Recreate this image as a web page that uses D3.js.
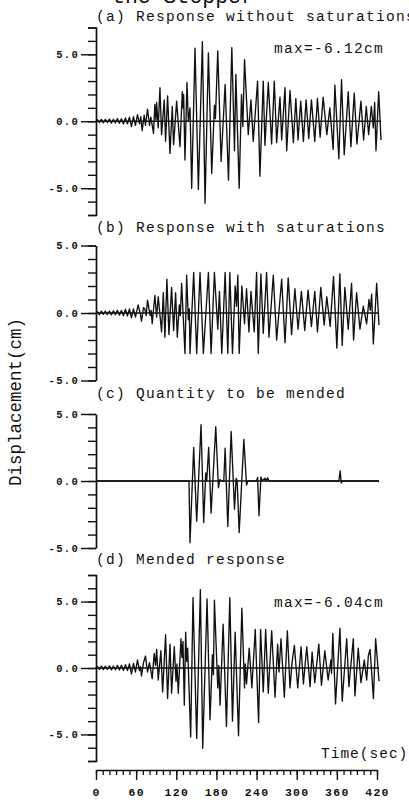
<!DOCTYPE html>
<html>
<head>
<meta charset="utf-8">
<script src="https://cdn.jsdelivr.net/npm/d3@7"></script>
<style>
  html, body { margin: 0; padding: 0; background: #fff; }
  svg { display: block; }
  text { font-family: "Liberation Mono", "DejaVu Sans Mono", monospace; fill: #111; }
</style>
</head>
<body>
<div id="chart"></div>
<script>
// values: [time (sec), displacement (cm)]
var respA = [
  [0,0],[2,0.12],[5,-0.1],[8,0.14],[11,-0.12],[14,0.15],[17,-0.1],[20,0.16],[23,-0.14],[26,0.15],
  [29,-0.12],[32,0.2],[35,-0.15],[38,0.18],[41,-0.2],[44,0.25],[47,-0.2],[50,0.3],[53,-0.4],[56,0.35],
  [59,-0.3],[62,0.5],[65,-0.2],[67,0.35],[69,-0.7],[72,0.45],[74,-0.3],[77,0.9],[80,-0.3],[82,0.3],
  [86,-0.9],[88,1.25],[89.6,0.1],[90.6,1.4],[93,-0.5],[95.6,2.5],[98,-1.0],[102,1.6],[104,-1.5],[107,1.9],
  [110.6,-2.4],[114,1.1],[116,-1.75],[120.5,1.5],[125.5,-1.9],[129,2.2],[130,1.0],[131,2.0],[133,-2.9],[136,2.9],
  [138,0],[140.5,1.0],[143,-5.0],[148,5.45],[153,-5.1],[159,5.95],[163,-6.12],[168,5.1],[173,-3.9],[177,1.2],
  [178.5,0.2],[182,5.25],[187,-3.0],[193,2.75],[198,-4.4],[203,5.5],[207,-2.2],[209,3.5],[214,-5.0],[217.5,2.0],
  [219.5,-0.4],[222,4.6],[227.6,-1.0],[231.6,1.6],[235,-1.5],[241.5,3.0],[245,-4.1],[250,3.0],[252.5,-1.8],[257.5,2.9],
  [262.5,-1.7],[266.5,3.0],[270,-1.6],[275,1.8],[277.5,-1.4],[282.5,2.5],[285,-2.2],[290,2.3],[295,-1.6],[298.7,1.7],
  [302,-1.4],[306,1.5],[310,-1.5],[314,1.6],[318,-1.3],[322,1.6],[327,-1.5],[331,1.7],[335,-1.2],[339.5,1.8],
  [345,-1.0],[349.5,1.0],[354.5,-2.1],[357,2.7],[363,-2.8],[367,3.1],[371,-2.5],[377,2.2],[381,-1.9],[386,2.1],
  [390,-1.7],[396,1.5],[400,-1.4],[404,1.1],[407.5,-1.0],[411.5,1.1],[414.5,-0.5],[416.5,1.4],[418.5,-2.2],[422.5,2.2],
  [426,-1.4]
];

var respB = [
  [0,0],[2,0.1],[5,-0.12],[8,0.14],[11,-0.1],[14,0.15],[17,-0.12],[20,0.15],[23,-0.14],[26,0.16],
  [29,-0.12],[32,0.2],[35,-0.16],[38,0.2],[41,-0.2],[44,0.28],[47,-0.22],[50,0.3],[53,-0.35],[56,0.3],
  [59,-0.3],[63,0.6],[66,0.0],[68,-0.6],[71,0.4],[73,0.3],[75,-0.2],[77,0.95],[81,-0.2],[82.5,0.2],
  [84,-0.8],[88,1.3],[90.6,-0.3],[93,1.2],[98,-1.4],[100.6,1.5],[103,-1.8],[106,2.5],[109,-1.6],[113,1.9],
  [116,-1.3],[119,1.5],[121.5,-1.8],[124.5,0.6],[126,-0.2],[128,2.2],[133,-3.0],[135.5,2.8],[138,-0.5],[139.5,0.3],
  [140.5,-3.0],[146,3.0],[150.5,-3.0],[155.5,3.0],[160.5,-3.0],[168,3.0],[172,-3.0],[177,3.0],[182,-1.2],[184.5,1.6],
  [188,-3.0],[193,3.0],[197,-3.0],[200,3.0],[204,-3.0],[208,2.0],[210,0.5],[212,2.8],[214,-3.0],[218,2.0],
  [222,-0.8],[225,1.8],[228.6,-1.4],[231.6,1.6],[236.5,-1.4],[240,3.0],[242.5,-3.0],[246.5,2.9],[250,-1.5],[255,3.0],
  [258.5,-1.8],[265,2.8],[270,-2.0],[277.5,2.5],[282.5,-2.2],[287.3,2.6],[292.3,-1.6],[297.3,1.8],[302,-1.2],[307,1.6],
  [312,-1.3],[317,1.7],[322,-1.0],[327,1.6],[331,-1.4],[336,1.9],[341,-0.9],[345,1.2],[350,-1.0],[355,2.7],
  [360,-2.6],[364.5,2.9],[368,-2.4],[372,1.9],[377,-1.2],[382,2.2],[385,-2.0],[389.5,1.5],[394.5,-1.2],[399.5,0.5],
  [404.5,-0.8],[408,1.0],[410,0.2],[412,1.4],[414.5,-2.3],[419.5,2.2],[423,-0.9]
];

var respC = [
  [0,0],[139,0],[140.5,-4.6],[146,2.5],[150.5,-3.0],[157,4.2],[161,-3.1],[164,0.6],[165.5,0],[168.4,2.5],
  [172,-2.4],[175,0.35],[179,4.05],[183,-0.5],[185,0.1],[188,0],[191,0],[193,2.45],[197,-3.4],[202,3.7],
  [207,-2.1],[209.5,0.2],[211,0],[214,-3.85],[221,3.1],[225,-0.3],[227,0],[240,0],[241.5,0.27],[243.6,-2.6],
  [246.5,0.3],[248.5,0],[252.5,0.2],[254.5,0],[256.5,0.25],[258.5,0],[363,0],[365,0.75],[366.5,-0.15],[368,0],
  [423,0]
];

var respD = [
  [0,0],[2,0.12],[5,-0.1],[8,0.15],[11,-0.12],[14,0.14],[17,-0.1],[20,0.17],[23,-0.14],[26,0.15],
  [29,-0.13],[32,0.2],[35,-0.15],[38,0.2],[41,-0.18],[44,0.25],[47,-0.2],[50,0.3],[53,-0.45],[56,0.35],
  [59,-0.3],[62,0.6],[65,-0.2],[66.5,0.1],[68,-0.6],[71,0.4],[74,0.9],[77,-0.3],[80,0.4],[84,-0.8],
  [87,1.1],[89,0.2],[90.7,1.4],[93,-0.9],[97,1.3],[99.6,-1.8],[104,2.5],[107,-2.3],[110.6,1.8],[113,-1.9],
  [117,1.6],[119.6,-1.0],[121,0.3],[123,-1.9],[127,2.2],[128.5,0.8],[130,2.0],[132,-2.8],[134,2.7],[135.5,0.5],
  [137,1.5],[141.5,-5.2],[145,5.3],[150.5,-5.3],[156,5.9],[159.5,-6.04],[166,5.2],[170.4,-3.9],[174,1.0],[175.5,-0.5],
  [177,5.1],[182,-1.5],[183.5,0.2],[185.4,-2.8],[190,3.3],[195,-4.4],[200,5.3],[204,-4.0],[208,2.7],[213,-5.1],
  [218,4.5],[222,-1.5],[223.2,0.3],[225,-1.2],[229,1.5],[233,-1.5],[238,2.9],[243,-4.1],[246,2.9],[250,-1.8],
  [253.6,2.9],[257.5,-1.9],[262.6,2.8],[267.6,-2.2],[271.5,1.8],[273.5,-0.3],[276.5,2.2],[281.5,-2.2],[286,2.8],[290,-1.5],
  [293,0.4],[296.5,1.7],[301.5,-1.5],[306.5,1.6],[310,-1.2],[315,1.6],[320,-1.4],[323,1.2],[327,-1.1],[333,1.8],
  [337,-1.3],[342,1.3],[347,-0.9],[351,0.6],[352,-0.4],[354,2.6],[358,-2.7],[364.6,3.0],[368,-2.5],[374.7,2.2],
  [378,-1.4],[384.6,2.2],[387,-2.1],[392,1.5],[396,-1.1],[401,0.6],[404.6,-0.9],[407,0.9],[409.6,1.4],[412,-0.3],
  [414.6,-2.3],[418,2.2],[423,-1.0]
];

var panelTitles = [
  "(a) Response without saturations",
  "(b) Response with saturations",
  "(c) Quantity to be mended",
  "(d) Mended response"
];
var maxNotes = ["max=-6.12cm", null, null, "max=-6.04cm"];
var yLimits = [7, 5, 5, 7];
var yMajorTicks = [-5, 0, 5];
var timeMajorTicks = [0, 60, 120, 180, 240, 300, 360, 420];
var timeMinorTicks = d3.range(0, 421, 10);
var headText = "the Stopper";
var yTitle = "Displacement(cm)";
var xTitle = "Time(sec)";

var width = 409, height = 802;
var ink = "#111";

var svg = d3.select("#chart").append("svg")
    .attr("width", width)
    .attr("height", height);

var x = d3.scaleLinear().domain([0, 420]).range([96, 377]);

// vertical layout of the four stacked panels
var boxes = [
  {top: 27.5, bottom: 215, titleY: 20.5, noteY: 53},
  {top: 245.5, bottom: 380.5, titleY: 232, noteY: 0},
  {top: 414, bottom: 548, titleY: 397.5, noteY: 0},
  {top: 575, bottom: 761, titleY: 564, noteY: 606.5}
];

var panels = [respA, respB, respC, respD].map(function(d, i) {
    return {data: d, title: panelTitles[i], note: maxNotes[i], lim: yLimits[i], box: boxes[i]};
});

function styleTicks(g, size) {
    g.attr("color", ink);
    g.select(".domain").attr("stroke-width", 1.7);
    g.selectAll(".tick line").attr("stroke-width", 1.4);
    g.selectAll(".tick text")
        .attr("font-family", "Liberation Mono, DejaVu Sans Mono, monospace")
        .attr("font-size", size)
        .attr("font-weight", "bold")
        .style("letter-spacing", "1.3px");
}

var fmt = function(d) { return d.toFixed(1); };

panels.forEach(function(p) {
    var y = d3.scaleLinear().domain([-p.lim, p.lim]).range([p.box.bottom, p.box.top]);
    var g = svg.append("g");

    var minor = g.append("g")
        .attr("transform", "translate(" + x(0) + ",0)")
        .call(d3.axisLeft(y).tickValues(d3.range(-p.lim, p.lim + 1)).tickSize(8).tickFormat(""));
    minor.select(".domain").remove();
    minor.attr("color", ink).selectAll(".tick line").attr("stroke-width", 1.4);

    var major = g.append("g")
        .attr("transform", "translate(" + x(0) + ",0)")
        .call(d3.axisLeft(y).tickValues(yMajorTicks).tickSize(15)
            .tickSizeOuter(p.lim > 5 ? 8 : 0).tickPadding(2).tickFormat(fmt));
    styleTicks(major, 10.5);

    var tEnd = p.data[p.data.length - 1][0];
    g.append("line")
        .attr("x1", x(0)).attr("x2", x(tEnd))
        .attr("y1", y(0)).attr("y2", y(0))
        .attr("stroke", ink)
        .attr("stroke-width", 1.6);

    var line = d3.line()
        .x(function(d) { return x(d[0]); })
        .y(function(d) { return y(d[1]); });

    g.append("path")
        .datum(p.data)
        .attr("d", line)
        .attr("fill", "none")
        .attr("stroke", ink)
        .attr("stroke-width", 1.35)
        .attr("stroke-linejoin", "round");

    g.append("text")
        .attr("x", 96)
        .attr("y", p.box.titleY)
        .attr("font-size", 14.5)
        .style("letter-spacing", "1.3px")
        .text(p.title);

    if (p.note) {
        g.append("text")
            .attr("x", 274)
            .attr("y", p.box.noteY)
            .attr("font-size", 14.5)
            .style("letter-spacing", "1.3px")
            .text(p.note);
    }
});

// time axis under the last panel
var xMinor = svg.append("g")
    .attr("transform", "translate(0,770)")
    .call(d3.axisBottom(x).tickValues(timeMinorTicks).tickSize(5).tickSizeOuter(0).tickFormat(""));
xMinor.attr("color", ink).selectAll(".tick line").attr("stroke-width", 1.3);

var xMajor = svg.append("g")
    .attr("transform", "translate(0,770)")
    .call(d3.axisBottom(x).tickValues(timeMajorTicks).tickSize(10).tickSizeOuter(0).tickPadding(8));
styleTicks(xMajor, 11.5);

svg.append("text")
    .attr("x", 321)
    .attr("y", 758)
    .attr("font-size", 14.5)
    .style("letter-spacing", "1px")
    .text(xTitle);

svg.append("text")
    .attr("transform", "translate(21,402) rotate(-90)")
    .attr("text-anchor", "middle")
    .attr("font-size", 17.5)
    .text(yTitle);

// heading line of the scan, mostly cut off by the top edge
svg.append("text")
    .attr("x", 112)
    .attr("y", 2.5)
    .attr("font-size", 21.5)
    .text(headText);
</script>
</body>
</html>
